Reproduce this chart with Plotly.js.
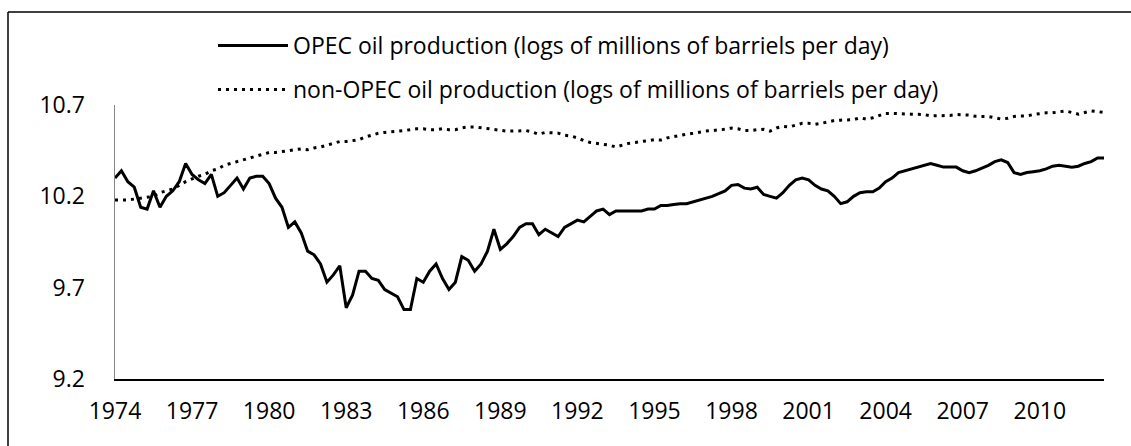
<!DOCTYPE html>
<html>
<head>
<meta charset="utf-8">
<script src="https://cdn.plot.ly/plotly-3.0.1.min.js"></script>
<style>html,body{margin:0;padding:0;background:#fff}#chart{width:1131px;height:446px}</style>
</head>
<body>
<div id="chart"></div>
<script>
// Quarterly observations, 1974Q1 - 2012Q3
const startYear = 1974;
const opec = [
10.30,10.34,10.28,10.25,10.14,10.13,10.23,10.14,10.20,10.23,
10.28,10.38,10.32,10.29,10.27,10.32,10.20,10.22,10.26,10.30,
10.24,10.30,10.31,10.31,10.27,10.19,10.14,10.03,10.06,10.00,
9.90,9.88,9.83,9.73,9.77,9.82,9.59,9.66,9.79,9.79,
9.75,9.74,9.69,9.67,9.65,9.58,9.58,9.75,9.73,9.79,
9.83,9.75,9.69,9.73,9.87,9.85,9.79,9.83,9.90,10.02,
9.91,9.94,9.98,10.03,10.05,10.05,9.99,10.02,10.00,9.98,
10.03,10.05,10.07,10.06,10.09,10.12,10.13,10.10,10.12,10.12,
10.12,10.12,10.12,10.13,10.13,10.15,10.15,10.155,10.16,10.16,
10.17,10.18,10.19,10.20,10.215,10.23,10.26,10.265,10.245,10.24,
10.25,10.21,10.20,10.19,10.22,10.26,10.29,10.30,10.29,10.26,
10.24,10.23,10.20,10.16,10.17,10.20,10.22,10.225,10.225,10.245,
10.28,10.30,10.33,10.34,10.35,10.36,10.37,10.38,10.37,10.36,
10.36,10.36,10.34,10.33,10.34,10.355,10.37,10.39,10.40,10.385,
10.33,10.32,10.33,10.335,10.34,10.35,10.365,10.37,10.365,10.36,
10.365,10.38,10.39,10.41,10.41
];
const nonOpec = [
10.18,10.18,10.18,10.185,10.19,10.195,10.20,10.22,10.23,10.24,
10.26,10.28,10.295,10.31,10.32,10.34,10.35,10.37,10.38,10.39,
10.40,10.41,10.42,10.43,10.44,10.44,10.445,10.45,10.455,10.46,
10.455,10.465,10.47,10.48,10.49,10.50,10.50,10.505,10.51,10.525,
10.535,10.545,10.55,10.555,10.557,10.56,10.565,10.57,10.57,10.565,
10.565,10.57,10.565,10.565,10.575,10.58,10.58,10.575,10.57,10.565,
10.56,10.557,10.557,10.56,10.56,10.552,10.54,10.55,10.546,10.546,
10.535,10.53,10.52,10.505,10.495,10.49,10.485,10.48,10.47,10.48,
10.49,10.495,10.50,10.508,10.51,10.508,10.52,10.527,10.535,10.54,
10.545,10.552,10.557,10.56,10.563,10.567,10.574,10.57,10.56,10.56,
10.565,10.567,10.557,10.574,10.583,10.58,10.59,10.60,10.60,10.594,
10.60,10.607,10.615,10.617,10.617,10.62,10.63,10.623,10.63,10.642,
10.654,10.654,10.654,10.654,10.65,10.649,10.648,10.64,10.64,10.64,
10.643,10.648,10.648,10.645,10.638,10.638,10.637,10.63,10.623,10.627,
10.637,10.64,10.64,10.648,10.654,10.657,10.657,10.664,10.668,10.659,
10.65,10.659,10.668,10.664,10.659
];
const tickYears = [1974,1977,1980,1983,1986,1989,1992,1995,1998,2001,2004,2007,2010];
const yTicks = [9.2,9.7,10.2,10.7];
const yTickText = ['9.2','9.7','10.2','10.7'];
const names = [
  'OPEC oil production (logs of millions of barriels per day)',
  'non-OPEC oil production (logs of millions of barriels per day)'
];

const periods = opec.map((_, i) => startYear + i / 4);

const W = 1131, H = 446;
const M = {l: 115, r: 27, t: 105, b: 67};
const pw = W - M.l - M.r, ph = H - M.t - M.b;
const px = v => (v - M.l) / pw;
const py = v => (H - M.b - v) / ph;

const font = {family: '"Open Sans", Lato, sans-serif', size: 23, color: '#000'};

const traces = [
  {x: periods, y: opec, type: 'scatter', mode: 'lines', name: names[0],
   line: {color: '#000', width: 3}, legend: 'legend'},
  {x: periods, y: nonOpec, type: 'scatter', mode: 'lines', name: names[1],
   line: {color: '#000', width: 3, dash: '3px,5px'}, legend: 'legend2'}
];

const layout = {
  width: W, height: H,
  margin: M,
  paper_bgcolor: '#fff', plot_bgcolor: '#fff',
  font: font,
  showlegend: true,
  legend: {x: px(213), y: py(24), xanchor: 'left', yanchor: 'top',
           bgcolor: 'rgba(0,0,0,0)', font: font, itemwidth: 70},
  legend2: {x: px(213), y: py(68), xanchor: 'left', yanchor: 'top',
           bgcolor: 'rgba(0,0,0,0)', font: font, itemwidth: 70},
  xaxis: {
    range: [startYear, periods[periods.length - 1]],
    tickvals: tickYears, ticktext: tickYears.map(String),
    ticks: '', showgrid: false, zeroline: false,
    showline: true, linecolor: '#000', linewidth: 2,
    tickfont: font, ticklabelstandoff: 10, fixedrange: true
  },
  yaxis: {
    range: [9.2, 10.7],
    tickvals: yTicks, ticktext: yTickText,
    ticks: '', showgrid: false, zeroline: false,
    showline: true, linecolor: '#868686', linewidth: 1.5,
    tickfont: font, ticklabelstandoff: 24, fixedrange: true
  },
  shapes: [
    {type: 'line', xref: 'paper', yref: 'paper', x0: px(8), x1: px(8), y0: py(12), y1: py(460),
     line: {color: '#000', width: 1.5}},
    {type: 'line', xref: 'paper', yref: 'paper', x0: px(8), x1: px(1140), y0: py(12), y1: py(12),
     line: {color: '#000', width: 1.5}}
  ]
};

Plotly.newPlot('chart', traces, layout, {displayModeBar: false, staticPlot: true});
</script>
</body>
</html>
